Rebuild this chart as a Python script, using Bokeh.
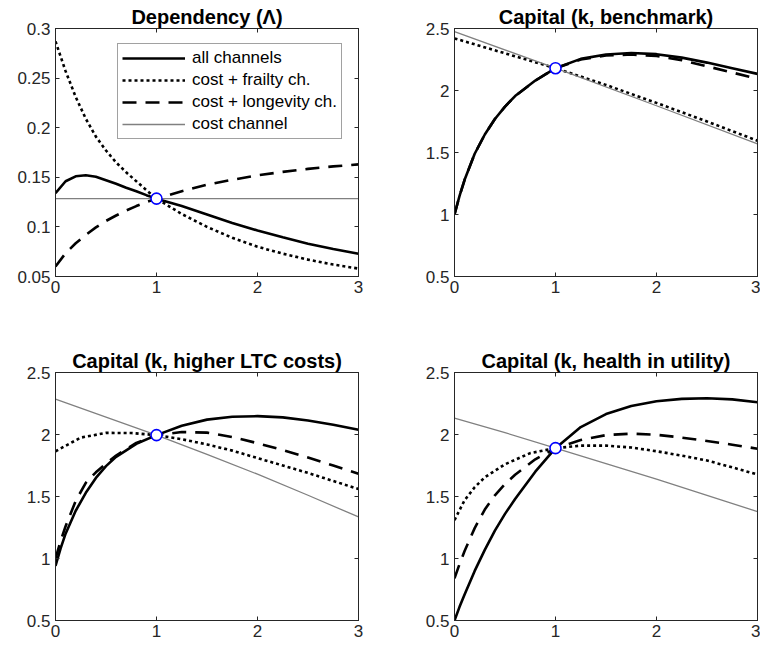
from bokeh.plotting import figure
from bokeh.models import (Range1d, LinearAxis, FixedTicker, CustomJSTickFormatter,
                          Legend, LegendItem, CustomLabelingPolicy)
from bokeh.layouts import column, row
from bokeh.embed import file_html
from bokeh.resources import INLINE

# ---------------- data ----------------
# Panel 1: Dependency (Lambda)
x_dep = [0, 0.1, 0.2, 0.3, 0.4, 0.5, 0.6, 0.7, 0.8, 0.9, 1.0, 1.25, 1.5, 1.75, 2.0, 2.25, 2.5, 2.75, 3.0]
dep_all = [0.134, 0.146, 0.151, 0.152, 0.1505, 0.147, 0.1435, 0.1395, 0.136, 0.132, 0.1285,
           0.121, 0.1125, 0.104, 0.0964, 0.0895, 0.083, 0.0778, 0.073]
dep_frailty = [0.287, 0.257, 0.231, 0.209, 0.191, 0.177, 0.165, 0.155, 0.146, 0.137, 0.1285,
               0.113, 0.100, 0.089, 0.080, 0.073, 0.067, 0.062, 0.058]
dep_longevity = [0.060, 0.0735, 0.0835, 0.092, 0.0995, 0.106, 0.1115, 0.1165, 0.121, 0.125, 0.1285,
                 0.136, 0.1425, 0.1475, 0.152, 0.1555, 0.1585, 0.161, 0.163]
x_dep_cost = [0, 3]
dep_cost = [0.1285, 0.1285]

# Panel 2: Capital, benchmark
x_bm = [0, 0.05, 0.1, 0.2, 0.3, 0.4, 0.5, 0.6, 0.8, 1.0, 1.25, 1.5, 1.75, 2.0, 2.25, 2.5, 2.75, 3.0]
bm_all = [1.0, 1.15, 1.28, 1.49, 1.645, 1.77, 1.87, 1.955, 2.08, 2.18, 2.255, 2.29, 2.303, 2.293,
          2.265, 2.225, 2.18, 2.134]
bm_longevity = [1.0, 1.15, 1.28, 1.49, 1.645, 1.77, 1.87, 1.955, 2.08, 2.18, 2.25, 2.282, 2.29,
                2.278, 2.245, 2.195, 2.145, 2.094]
x_bm_frailty = [0, 0.5, 1.0, 1.5, 2.0, 2.5, 3.0]
bm_frailty = [2.42, 2.30, 2.18, 2.045, 1.90, 1.75, 1.595]
x_bm_cost = [0, 1, 2, 3]
bm_cost = [2.475, 2.18, 1.877, 1.57]

# Panel 3: Capital, higher LTC costs
x_ltc = [0, 0.05, 0.1, 0.2, 0.3, 0.4, 0.5, 0.6, 0.8, 1.0, 1.25, 1.5, 1.75, 2.0, 2.25, 2.5, 2.75, 3.0]
ltc_all = [0.94, 1.08, 1.20, 1.385, 1.53, 1.65, 1.745, 1.82, 1.925, 1.995, 2.07, 2.12, 2.143, 2.148,
           2.138, 2.113, 2.078, 2.038]
ltc_longevity = [1.0, 1.14, 1.26, 1.465, 1.61, 1.695, 1.765, 1.83, 1.932, 1.995, 2.02, 2.015, 1.98,
                 1.93, 1.875, 1.815, 1.75, 1.683]
x_ltc_frailty = [0, 0.25, 0.5, 0.75, 1.0, 1.25, 1.5, 1.75, 2.0, 2.5, 3.0]
ltc_frailty = [1.865, 1.975, 2.013, 2.012, 1.995, 1.962, 1.92, 1.87, 1.81, 1.69, 1.56]
x_ltc_cost = [0, 0.5, 1.0, 1.5, 2.0, 2.5, 3.0]
ltc_cost = [2.285, 2.14, 1.995, 1.84, 1.68, 1.51, 1.335]

# Panel 4: Capital, health in utility
x_hu = [0, 0.05, 0.1, 0.2, 0.3, 0.4, 0.5, 0.6, 0.8, 1.0, 1.25, 1.5, 1.75, 2.0, 2.25, 2.5, 2.75, 3.0]
hu_all = [0.5, 0.61, 0.71, 0.9, 1.07, 1.225, 1.36, 1.48, 1.70, 1.89, 2.06, 2.165, 2.23, 2.268,
          2.287, 2.292, 2.283, 2.26]
hu_longevity = [0.84, 0.955, 1.06, 1.245, 1.395, 1.51, 1.60, 1.675, 1.80, 1.89, 1.955, 1.995, 2.007,
                1.998, 1.975, 1.948, 1.918, 1.885]
x_hu_frailty = [0, 0.1, 0.2, 0.3, 0.5, 0.75, 1.0, 1.25, 1.5, 1.75, 2.0, 2.25, 2.5, 2.75, 3.0]
hu_frailty = [1.31, 1.47, 1.575, 1.655, 1.76, 1.85, 1.89, 1.91, 1.91, 1.895, 1.865, 1.83, 1.79,
              1.735, 1.677]
x_hu_cost = [0, 0.5, 1.0, 1.5, 2.0, 2.5, 3.0]
hu_cost = [2.133, 2.015, 1.89, 1.765, 1.64, 1.51, 1.378]

# calibration points (circles)
pt_x = [1.0]
pt_dep = [0.1285]
pt_bm = [2.18]
pt_ltc = [1.995]
pt_hu = [1.89]

titles = ["Dependency (\u039b)", "Capital (k, benchmark)",
          "Capital (k, higher LTC costs)", "Capital (k, health in utility)"]
legend_labels = ["all channels", "cost + frailty ch.", "cost + longevity ch.", "cost channel"]
x_ticks = [0, 1, 2, 3]
dep_ticks = [0.05, 0.1, 0.15, 0.2, 0.25, 0.3]
cap_ticks = [0.5, 1, 1.5, 2, 2.5]

# ---------------- styling ----------------
FONT = "Liberation Sans"
AX = "#262626"
FMT = "return String(Math.round(tick*100)/100);"


def add_axes(p, yticks):
    for side, ticks in (("below", x_ticks), ("left", yticks), ("above", x_ticks), ("right", yticks)):
        ax = LinearAxis(ticker=FixedTicker(ticks=ticks),
                        formatter=CustomJSTickFormatter(code=FMT))
        ax.major_tick_in = 4
        ax.major_tick_out = 0
        ax.minor_tick_in = 0
        ax.minor_tick_out = 0
        ax.axis_line_color = AX
        ax.major_tick_line_color = AX
        ax.major_label_text_font = FONT
        ax.major_label_text_color = AX
        if side in ("below", "left"):
            ax.major_label_text_font_size = "17px"
            ax.major_label_standoff = 4 if side == "below" else 5
        else:
            # tick marks only (MATLAB box): no labels on top / right
            ax.major_label_text_font_size = "0px"
            ax.major_label_standoff = 0
            ax.major_label_policy = CustomLabelingPolicy(code="return new Set()")
        p.add_layout(ax, side)


def make_fig(title, yr, yticks, width, height, left, right, top, bottom):
    p = figure(width=width, height=height, x_range=Range1d(0, 3), y_range=Range1d(*yr),
               output_backend="svg", toolbar_location=None,
               x_axis_type=None, y_axis_type=None,
               min_border_left=left, min_border_right=right,
               min_border_top=top, min_border_bottom=bottom)
    p.title.text = title
    p.title.align = "center"
    p.title.text_font = FONT
    p.title.text_font_style = "bold"
    p.title.text_font_size = "20px"
    p.title.text_color = "black"
    p.title.standoff = 1
    p.title.offset = 0
    p.grid.visible = False
    p.outline_line_color = AX
    p.outline_line_width = 1
    p.outline_line_alpha = 1
    p.background_fill_color = "white"
    p.border_fill_color = "white"
    add_axes(p, yticks)
    return p


def draw(p, xa, ya, xf, yf, xl, yl, xc, yc, py):
    r_all = p.line(xa, ya, line_color="black", line_width=2.6)
    r_fr = p.line(xf, yf, line_color="black", line_width=2.6, line_dash="3 3")
    r_lo = p.line(xl, yl, line_color="black", line_width=2.6, line_dash="14 9")
    r_co = p.line(xc, yc, line_color="#808080", line_width=1.3)
    p.scatter(pt_x, py, size=11, marker="circle", fill_color="white",
              line_color="#0000ff", line_width=1.6)
    return [r_all, r_fr, r_lo, r_co]


W1, W2 = 407, 353
H1, H2 = 344, 308

p1 = make_fig(titles[0], (0.05, 0.3), dep_ticks, W1, H1, 55, 49, 28, 68)
rs = draw(p1, x_dep, dep_all, x_dep, dep_frailty, x_dep, dep_longevity, x_dep_cost, dep_cost, pt_dep)
legend = Legend(items=[LegendItem(label=l, renderers=[r]) for l, r in zip(legend_labels, rs)],
                location=(62, 137))
legend.label_text_font = FONT
legend.label_text_font_size = "17px"
legend.label_text_color = "black"
legend.glyph_width = 63
legend.glyph_height = 20
legend.label_height = 20
legend.label_standoff = 7
legend.spacing = 2
legend.padding = 4
legend.margin = 0
legend.border_line_color = "#444444"
legend.border_line_width = 1
legend.background_fill_color = "white"
legend.background_fill_alpha = 1
p1.add_layout(legend)

p2 = make_fig(titles[1], (0.5, 2.5), cap_ticks, W2, H1, 47, 3, 28, 68)
draw(p2, x_bm, bm_all, x_bm_frailty, bm_frailty, x_bm, bm_longevity, x_bm_cost, bm_cost, pt_bm)

p3 = make_fig(titles[2], (0.5, 2.5), cap_ticks, W1, H2, 55, 49, 28, 32)
draw(p3, x_ltc, ltc_all, x_ltc_frailty, ltc_frailty, x_ltc, ltc_longevity, x_ltc_cost, ltc_cost, pt_ltc)

p4 = make_fig(titles[3], (0.5, 2.5), cap_ticks, W2, H2, 47, 3, 28, 32)
draw(p4, x_hu, hu_all, x_hu_frailty, hu_frailty, x_hu, hu_longevity, x_hu_cost, hu_cost, pt_hu)

layout = column(row(p1, p2), row(p3, p4))
open("out.html", "w").write(file_html(layout, INLINE))
